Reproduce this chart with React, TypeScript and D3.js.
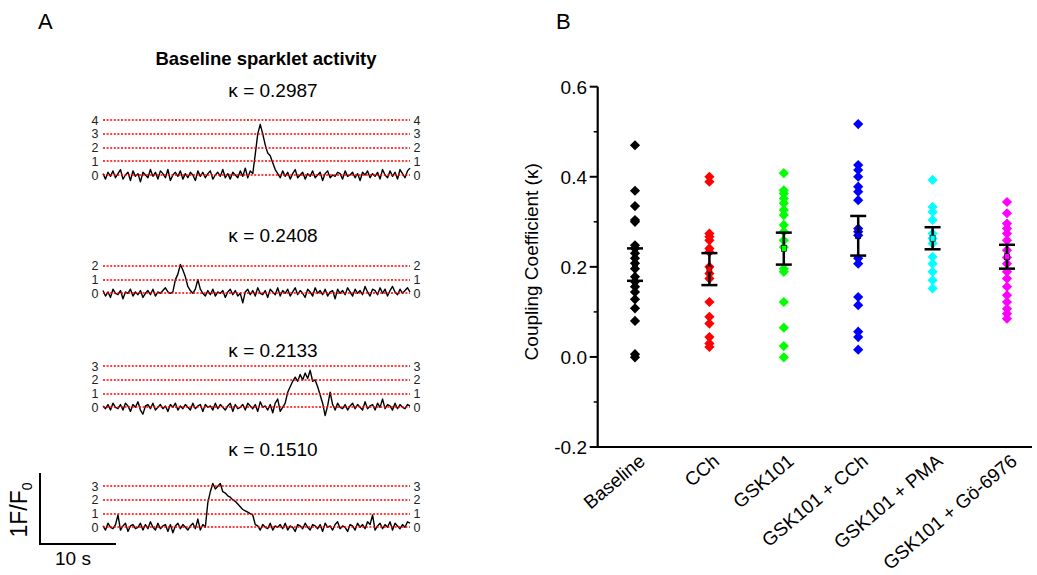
import React from 'react';
import * as d3 from 'd3';

// ---------- Panel B data ----------
const categories = ['Baseline', 'CCh', 'GSK101', 'GSK101 + CCh', 'GSK101 + PMA', 'GSK101 + Gö-6976'];
const groupColors = ['#000000', '#ff0000', '#00ff00', '#0000ff', '#00ffff', '#ff00ff'];
const baselineVals = [0.470, 0.369, 0.335, 0.304, 0.300, 0.248, 0.241, 0.230, 0.219, 0.208, 0.196, 0.178, 0.167, 0.156, 0.144, 0.128, 0.108, 0.080, 0.006, -0.001];
const cchVals = [0.400, 0.389, 0.274, 0.267, 0.259, 0.241, 0.233, 0.200, 0.185, 0.174, 0.122, 0.089, 0.074, 0.044, 0.030, 0.022];
const gskVals = [0.408, 0.370, 0.363, 0.352, 0.341, 0.326, 0.315, 0.293, 0.278, 0.259, 0.244, 0.196, 0.189, 0.122, 0.065, 0.024, -0.001];
const gskCchVals = [0.517, 0.426, 0.415, 0.400, 0.378, 0.367, 0.348, 0.285, 0.278, 0.270, 0.219, 0.207, 0.133, 0.115, 0.056, 0.044, 0.016];
const gskPmaVals = [0.393, 0.333, 0.322, 0.304, 0.274, 0.263, 0.252, 0.222, 0.207, 0.189, 0.170, 0.152];
const gskGoVals = [0.344, 0.319, 0.296, 0.285, 0.274, 0.259, 0.237, 0.221, 0.207, 0.189, 0.174, 0.156, 0.137, 0.122, 0.107, 0.096, 0.085];
const groupMeans = [0.205, 0.195, 0.2405, 0.269, 0.2635, 0.2225];
const groupSems = [0.036, 0.0355, 0.0355, 0.044, 0.0245, 0.0265];
const yTicks = [-0.2, 0.0, 0.2, 0.4, 0.6];
const yMinorTicks = [-0.1, 0.1, 0.3, 0.5];

// ---------- Panel A data ----------
const traceKappas = ['0.2987', '0.2408', '0.2133', '0.1510'];
const traceLevels = [[0, 1, 2, 3, 4], [0, 1, 2], [0, 1, 2, 3], [0, 1, 2, 3]];
const trace1 = [
  0.1, -0.3, 0.2, -0.1, 0.3, -0.2, 0.1, 0.4, -0.3, 0.0, 0.2, -0.4, 0.3, -0.1, 0.1, -0.5, 0.2, 0.0, -0.2, 0.4,
  -0.1, 0.2, -0.3, 0.3, 0.1, -0.2, 0.4, -0.4, 0.0, 0.2, -0.1, 0.3, -0.3, 0.1, -0.2, 0.2, 0.0, -0.4, 0.3, -0.1,
  0.2, -0.2, 0.1, 0.3, -0.3, 0.0, 0.2, -0.1, 0.4, -0.2, 0.1, -0.3, 0.2, 0.0, -0.2, 0.3, -0.1, 0.5, -0.2, 0.3, 0.1,
  1.5, 3.0, 3.7, 3.0, 2.2, 1.6, 1.4, 0.9, 0.4, 0.1,
  -0.2, 0.3, -0.1, 0.2, -0.3, 0.1, 0.4, -0.2, 0.0, 0.2, -0.3, 0.1, -0.1, 0.3, -0.2, 0.0, 0.2, -0.4, 0.1, 0.3,
  -0.2, 0.0, -0.1, 0.2, 0.1, -0.3, 0.3, -0.1, 0.0, 0.2, -0.2, 0.1, -0.4, 0.2, 0.0, 0.3, -0.2, 0.1, -0.1, 0.2,
  -0.3, 0.4, 0.0, -0.2, 0.3, -0.1, 0.2, -0.3, 0.4, 0.1, -0.2, 0.3, 0.5,
];
const trace2 = [
  0.2, -0.2, 0.1, -0.3, 0.3, 0.0, -0.1, 0.2, -0.4, 0.1, 0.0, 0.3, -0.2, 0.1, -0.1, 0.2, -0.3, 0.0, 0.2, -0.1,
  0.3, -0.2, 0.1, 0.0, 0.2, 0.4, 0.1, 0.0,
  0.1, 1.0, 1.4, 2.1, 1.7, 1.2, 0.5, 0.2, 0.0, 0.3, 1.0, 0.3, 0.0,
  -0.2, 0.2, -0.1, 0.3, -0.2, 0.1, 0.0, 0.2, -0.3, 0.1,
  0.3, -0.1, 0.2, -0.2, 0.0, -0.7, 0.1, 0.3, -0.1, 0.2,
  -0.2, 0.4, 0.0, -0.1, 0.2, -0.3, 0.3, 0.1, -0.1, 0.4,
  -0.2, 0.2, 0.0, 0.3, -0.2, 0.1, 0.4, -0.1, 0.2, 0.0,
  -0.3, 0.3, 0.1, -0.2, 0.4, 0.0, 0.2, -0.1, 0.3, -0.2,
  0.1, 0.2, -0.4, 0.3, 0.0, 0.2, -0.1, 0.4, 0.1, -0.2,
  0.3, 0.0, 0.2, -0.1, 0.5, 0.1, -0.2, 0.3, 0.2, -0.1,
  0.4, 0.0, 0.3, -0.2, 0.2, 0.5, 0.1, -0.1, 0.3, 0.0,
  0.2, 0.4, 0.1,
];
const trace3 = [
  0.1, -0.1, 0.2, -0.2, 0.3, 0.0, -0.1, 0.2, -0.2, 0.3,
  0.1, -0.3, 0.2, 0.0, 0.4, -0.2, -0.5, 0.1, 0.2, -0.1,
  0.3, -0.2, 0.0, 0.2, -0.1, 0.1, -0.3, 0.2, 0.0, 0.3,
  -0.2, 0.1, -0.1, 0.2, 0.0, -0.2, 0.3, -0.1, 0.1, 0.2,
  -0.3, 0.2, 0.0, 0.1, -0.2, 0.3, -0.1, 0.2, 0.0, -0.2,
  0.1, 0.3, -0.3, 0.2, -0.1, 0.0, 0.2, -0.2, 0.3, 0.1,
  -0.1, 0.2, -0.3, 0.4, 0.0, 0.1, -0.2, 0.2, -0.4, 0.3,
  0.6, -0.3, 0.0,
  0.3, 1.1, 1.5, 1.9, 2.2, 1.9, 2.4, 2.0, 2.5, 2.1, 2.7, 1.9, 2.0, 1.5, 0.9, 0.3, -0.6, 0.1, 1.1, 0.2,
  -0.2, 0.3, 0.0, -0.1, 0.2, -0.2, 0.1, 0.3, -0.1, 0.2,
  0.0, -0.2, 0.4, -0.1, 0.1, 0.2, -0.2, 0.3, 0.0, 0.6,
  -0.1, 0.2, 0.1, -0.2, 0.3, -0.1, 0.2, 0.0, -0.1, 0.2,
  0.1,
];
const trace4 = [
  0.1, -0.2, 0.3, 0.0, -0.1, 0.2, 0.9, -0.2, 0.1, 0.3,
  -0.3, 0.1, 0.2, -0.1, 0.0, 0.3, -0.2, 0.2, -0.1, 0.4,
  0.0, -0.2, 0.3, -0.1, 0.1, 0.2, -0.3, 0.2, -0.4, 0.1,
  0.3, -0.1, 0.2, 0.0, -0.2, 0.1, 0.3, -0.1, 0.6, -0.2,
  0.2, 0.0,
  1.8, 2.6, 3.2, 2.8, 3.0, 3.2, 2.6, 2.5, 2.3, 2.2, 2.0, 1.9, 1.7, 1.5, 1.3, 1.2, 1.1, 1.0, 0.9, 0.2,
  0.1, -0.2, 0.2, 0.0, -0.1, 0.3, -0.2, 0.1, 0.0, 0.2,
  -0.1, 0.3, -0.2, 0.1, 0.0, -0.3, 0.2, 0.1, -0.1, 0.3,
  0.0, -0.2, 0.2, 0.1, -0.1, 0.2, -0.3, 0.3, 0.0, 0.1,
  -0.2, 0.2, 0.4, -0.1, 0.1, 0.0, -0.3, 0.2, 0.1, -0.2,
  0.3, 0.0, 0.2, -0.1, 0.4, 0.2, 0.9, -0.2, 0.1, 0.3,
  -0.1, 0.2, 0.0, 0.4, -0.2, 0.3, 0.1, -0.1, 0.2, 0.0,
  0.4, 0.3,
];
const traces = [trace1, trace2, trace3, trace4];

const FONT = 'Arial, "Liberation Sans", sans-serif';

export default function App() {
  // ---- Panel A layout ----
  const traceZeroY = [175, 293.3, 407.3, 527.3];
  const kappaY = [97, 242, 357, 456];
  const unitPx = 13.7;
  const xT = d3.scaleLinear().domain([0, trace1.length - 1]).range([103, 410]);

  // ---- Panel B scales ----
  const yB = d3.scaleLinear().domain([-0.2, 0.6]).range([447, 86.7]);
  const xB = d3.scalePoint<string>().domain(categories).range([635, 1007]);
  const groups = [baselineVals, cchVals, gskVals, gskCchVals, gskPmaVals, gskGoVals];
  const diamond = d3.symbol().type(d3.symbolSquare).size(52)() as string;
  const axisLeft = 597.7;

  return (
    <svg width={1037} height={575} style={{ position: 'absolute', left: 0, top: 0, background: '#fff' }} fontFamily={FONT}>
      <rect x={0} y={0} width={1037} height={575} fill="#fff" />
      {/* Panel letters */}
      <text x={38} y={29} fontSize={22}>A</text>
      <text x={556} y={29} fontSize={22}>B</text>

      {/* Panel A */}
      <text x={266} y={65} fontSize={18.5} fontWeight="bold" textAnchor="middle">Baseline sparklet activity</text>
      {traces.map((tr, k) => {
        const z = traceZeroY[k];
        const yT = d3.scaleLinear().domain([0, 1]).range([z, z - unitPx]);
        const line = d3.line<number>().x((_, i) => xT(i)).y((d) => yT(d));
        return (
          <g key={k}>
            <text x={273} y={kappaY[k]} fontSize={19} textAnchor="middle">κ = {traceKappas[k]}</text>
            <path d={line(tr) || ''} fill="none" stroke="#000" strokeWidth={1.4} strokeLinejoin="round" />
            {traceLevels[k].map((lv) => (
              <g key={lv}>
                <line x1={103} x2={410} y1={Math.round(yT(lv))} y2={Math.round(yT(lv))} stroke="#ff0000" strokeWidth={1.6} strokeDasharray="2,1.6" />
                <text x={98.5} y={yT(lv)} dy="0.36em" fontSize={12.5} textAnchor="end" fill="#222">{lv}</text>
                <text x={413.5} y={yT(lv)} dy="0.36em" fontSize={12.5} textAnchor="start" fill="#222">{lv}</text>
              </g>
            ))}
          </g>
        );
      })}
      {/* scale bar */}
      <line x1={40} x2={40} y1={473} y2={545} stroke="#000" strokeWidth={2} />
      <line x1={39} x2={116} y1={544} y2={544} stroke="#000" strokeWidth={2} />
      <text transform="translate(27,510) rotate(-90)" fontSize={23} textAnchor="middle">
        1F/F<tspan fontSize={14} dy="5">0</tspan>
      </text>
      <text x={73} y={565} fontSize={19} textAnchor="middle">10 s</text>

      {/* Panel B axes */}
      <line x1={axisLeft} x2={axisLeft} y1={yB(0.6)} y2={yB(-0.2) + 1} stroke="#000" strokeWidth={2.2} />
      <line x1={axisLeft - 1} x2={1032} y1={yB(-0.2)} y2={yB(-0.2)} stroke="#000" strokeWidth={2.2} />
      {yTicks.map((t) => (
        <g key={t}>
          <line x1={axisLeft - 8} x2={axisLeft} y1={yB(t)} y2={yB(t)} stroke="#000" strokeWidth={2} />
          <text x={587} y={yB(t)} dy="0.36em" fontSize={19} textAnchor="end">{t.toFixed(1)}</text>
        </g>
      ))}
      {yMinorTicks.map((t) => (
        <line key={t} x1={axisLeft - 4} x2={axisLeft} y1={yB(t)} y2={yB(t)} stroke="#000" strokeWidth={1.5} />
      ))}
      <text transform={`translate(538,${(yB(0.6) + yB(-0.2)) / 2 - 5}) rotate(-90)`} fontSize={19} textAnchor="middle">
        Coupling Coefficient (κ)
      </text>

      {/* points */}
      {groups.map((vals, g) => (
        <g key={g}>
          {vals.map((v, i) => (
            <path key={i} d={diamond} transform={`translate(${xB(categories[g])},${yB(v)}) rotate(45)`} fill={groupColors[g]} />
          ))}
        </g>
      ))}
      {/* mean ± SEM */}
      {groupMeans.map((m, g) => {
        const cx = xB(categories[g]) as number;
        const top = yB(m + groupSems[g]);
        const bot = yB(m - groupSems[g]);
        return (
          <g key={g}>
            <line x1={cx} x2={cx} y1={top} y2={bot} stroke="#000" strokeWidth={2.5} />
            <line x1={cx - 8} x2={cx + 8} y1={top} y2={top} stroke="#000" strokeWidth={2.5} />
            <line x1={cx - 8} x2={cx + 8} y1={bot} y2={bot} stroke="#000" strokeWidth={2.5} />
            <rect x={cx - 2.5} y={yB(m) - 3} width={5} height={6} fill={groupColors[g]} stroke="#000" strokeWidth={0.6} />
          </g>
        );
      })}

      {/* category labels */}
      {categories.map((c) => (
        <text key={c} transform={`translate(${(xB(c) as number) + 7},458) rotate(-40)`} dy="0.35em" fontSize={19} textAnchor="end">
          {c}
        </text>
      ))}
    </svg>
  );
}
